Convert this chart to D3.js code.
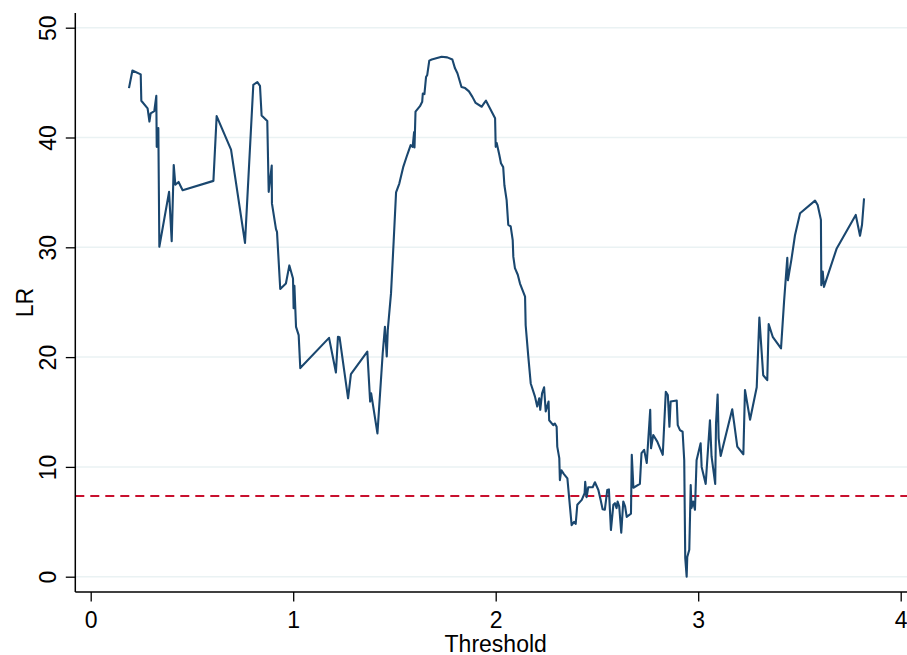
<!DOCTYPE html>
<html><head><meta charset="utf-8">
<script src="https://cdn.jsdelivr.net/npm/d3@7"></script>
<style>body{margin:0;background:#fff}svg{display:block}text{font-family:"Liberation Sans",Arial,sans-serif;fill:#000}</style>
</head><body><svg id="c" width="907" height="655"></svg>
<script>
const threshold = [0.189,0.206,0.247,0.250,0.281,0.290,0.296,0.314,0.324,0.326,0.334,0.339,0.387,0.400,0.410,0.418,0.434,0.454,0.606,0.622,0.693,0.762,0.803,0.823,0.836,0.844,0.872,0.879,0.894,0.895,0.915,0.920,0.936,0.964,0.981,0.999,1.002,1.006,1.014,1.027,1.035,1.177,1.211,1.221,1.229,1.271,1.285,1.366,1.380,1.385,1.416,1.442,1.453,1.462,1.467,1.483,1.496,1.508,1.524,1.544,1.560,1.580,1.590,1.597,1.599,1.604,1.626,1.637,1.640,1.648,1.656,1.662,1.672,1.684,1.733,1.761,1.786,1.799,1.811,1.831,1.849,1.868,1.885,1.901,1.931,1.942,1.952,1.972,1.997,2.000,2.005,2.018,2.026,2.037,2.043,2.054,2.062,2.074,2.084,2.087,2.095,2.109,2.120,2.145,2.148,2.161,2.173,2.194,2.205,2.215,2.220,2.229,2.239,2.247,2.261,2.264,2.284,2.292,2.301,2.304,2.314,2.317,2.324,2.337,2.354,2.375,2.387,2.395,2.403,2.425,2.439,2.442,2.449,2.457,2.479,2.490,2.507,2.518,2.528,2.539,2.551,2.559,2.569,2.581,2.589,2.597,2.602,2.610,2.620,2.630,2.639,2.647,2.658,2.668,2.672,2.680,2.712,2.720,2.733,2.746,2.763,2.767,2.778,2.798,2.825,2.840,2.850,2.858,2.864,2.894,2.899,2.910,2.923,2.931,2.936,2.943,2.946,2.956,2.963,2.967,2.975,2.984,2.992,3.012,3.017,3.037,3.058,3.066,3.084,3.088,3.096,3.101,3.111,3.168,3.177,3.193,3.223,3.231,3.256,3.289,3.302,3.321,3.341,3.348,3.368,3.409,3.424,3.440,3.443,3.460,3.478,3.503,3.577,3.590,3.606,3.608,3.615,3.621,3.684,3.778,3.799,3.809,3.819];
const lr = [44.5,46.1,45.75,43.35,42.65,41.45,42.2,42.4,43.8,39.15,40.85,30.05,35.05,30.55,37.5,35.7,35.95,35.2,36.05,41.95,38.9,30.4,44.8,45.05,44.7,42.0,41.5,35.05,37.45,34.0,31.65,31.4,26.2,26.7,28.35,27.15,24.45,26.5,22.75,22.0,19.0,21.75,18.6,21.85,21.8,16.25,18.45,20.5,15.95,16.7,13.05,20.35,22.75,20.05,22.45,25.8,30.5,35.0,35.8,37.35,38.25,39.3,39.15,40.5,39.1,42.35,42.85,43.25,44.0,43.95,45.5,45.7,47.0,47.1,47.35,47.3,47.1,46.3,45.85,44.6,44.5,44.2,43.7,43.15,42.8,43.1,43.35,42.65,41.75,39.15,39.5,38.4,37.65,37.3,35.65,34.3,32.05,31.9,30.65,29.15,28.1,27.5,26.7,25.5,22.9,20.05,17.6,16.4,15.5,16.25,15.2,16.7,17.25,15.05,15.95,14.25,13.8,13.95,13.65,11.85,10.8,8.8,9.7,9.35,8.95,4.7,5.0,4.8,6.55,7.0,7.6,8.65,7.25,8.15,8.15,8.6,7.9,7.0,6.15,6.1,7.9,7.95,4.25,6.55,6.7,6.25,6.85,6.4,4.0,6.85,6.4,5.45,5.6,5.75,11.1,8.1,8.45,11.25,11.55,10.35,15.2,11.7,12.9,12.3,11.1,16.85,16.55,13.65,15.95,16.05,13.8,13.35,13.2,10.6,1.7,0.0,1.8,2.45,8.35,6.25,6.85,6.1,10.6,12.15,10.0,8.45,14.25,10.95,8.45,13.95,16.6,12.6,11.0,15.25,14.05,11.85,11.15,17.0,14.3,17.25,23.6,18.35,17.9,23.0,21.85,20.8,25.05,29.05,27.0,28.85,31.1,33.1,34.25,33.85,32.5,26.55,27.8,26.4,29.9,32.95,31.05,32.05,34.45];
const critical = 7.35;
const xTicks = [0,1,2,3,4];
const yTicks = [0,10,20,30,40,50];
const xTitle = "Threshold";
const yTitle = "LR";

(function(){
const svg = d3.select("#c");
const x = d3.scaleLinear().domain([0,4]).range([90.7,900.7]);
const y = d3.scaleLinear().domain([0,50]).range([576.7,27.7]);
const pL = 75.3, pB = 592, pT = 13, pR = 907;

svg.append("g").selectAll("line").data(yTicks).join("line")
  .attr("x1", pL).attr("x2", pR)
  .attr("y1", d=>y(d)).attr("y2", d=>y(d))
  .attr("stroke", "#eaf2f3").attr("stroke-width", 1.5);

svg.append("line").attr("x1", pL).attr("x2", pR)
  .attr("y1", y(critical)).attr("y2", y(critical))
  .attr("stroke", "#c8102e").attr("stroke-width", 1.8).attr("stroke-dasharray", "9,6");

const data = threshold.map((t,i)=>[t, lr[i]]);
svg.append("path").datum(data)
  .attr("d", d3.line().x(d=>x(d[0])).y(d=>y(d[1])))
  .attr("fill","none").attr("stroke","#1a476f").attr("stroke-width",2.1).attr("stroke-linejoin","round");

const xa = svg.append("g").attr("transform", `translate(0,${pB})`)
  .call(d3.axisBottom(x).tickValues(xTicks).tickFormat(d3.format("d")).tickSize(9.5).tickPadding(10));
xa.select(".domain").attr("d", `M${pL},0H${pR}`).attr("stroke","#000").attr("stroke-width",1.5);
xa.selectAll(".tick line").attr("stroke","#000").attr("stroke-width",1.3);
xa.selectAll("text").style("font-size","23px").attr("font-family","Liberation Sans, Arial, sans-serif");

const ya = svg.append("g").attr("transform", `translate(${pL},0)`)
  .call(d3.axisLeft(y).tickValues(yTicks).tickFormat(d3.format("d")).tickSize(9.5).tickPadding(0));
ya.select(".domain").attr("d", `M0,${pT}V${pB}`).attr("stroke","#000").attr("stroke-width",1.5);
ya.selectAll(".tick line").attr("stroke","#000").attr("stroke-width",1.3);
ya.selectAll("text").style("font-size","23px").attr("font-family","Liberation Sans, Arial, sans-serif")
  .attr("text-anchor","middle").attr("dy",null).attr("x",null)
  .attr("transform","translate(-27,0) rotate(-90)").attr("dominant-baseline","central");

svg.append("text").attr("x", x(2)).attr("y", 652).attr("text-anchor","middle")
  .style("font-size","23px").text(xTitle);
svg.append("text").attr("transform", `translate(25,${(pT+pB)/2})rotate(-90)`)
  .attr("text-anchor","middle").attr("dominant-baseline","central")
  .style("font-size","23px").text(yTitle);
})();
</script></body></html>
